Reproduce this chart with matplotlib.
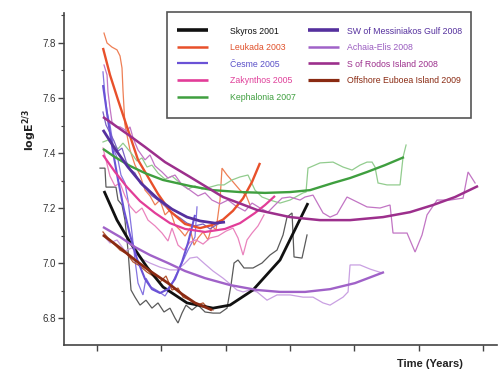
import matplotlib
matplotlib.use("Agg")
import matplotlib.pyplot as plt
from matplotlib.ticker import MultipleLocator
from matplotlib.patches import Rectangle

# ---------------- data (x in years from first tick, y = logE^(2/3)) ----------------
skyros_raw_x = [0.047, 0.124, 0.14, 0.295, 0.327, 0.389, 0.435, 0.482, 0.529, 0.591, 0.669, 0.762, 0.855, 0.949,
                1.042, 1.135, 1.213, 1.26, 1.322, 1.384, 1.477, 1.571, 1.68, 1.804, 1.913, 2.022, 2.084, 2.131,
                2.193, 2.286, 2.426, 2.566, 2.69, 2.799, 2.893, 2.955, 3.033, 3.064, 3.188, 3.266]
skyros_raw_y = [7.345, 7.345, 7.276, 7.276, 7.229, 7.211, 7.156, 7.047, 6.902, 6.876, 6.847, 6.865, 6.836, 6.855,
                6.822, 6.836, 6.8, 6.782, 6.818, 6.847, 6.829, 6.847, 6.822, 6.818, 6.818, 6.836, 6.92, 7.0,
                7.011, 6.982, 6.982, 7.0, 7.029, 7.047, 7.102, 7.167, 7.182, 7.022, 7.018, 7.102]
skyros_fit_x = [0.109, 0.311, 0.513, 0.778, 1.026, 1.40, 1.804, 2.068, 2.426, 2.846, 3.281]
skyros_fit_y = [7.262, 7.156, 7.076, 6.985, 6.913, 6.855, 6.836, 6.847, 6.902, 7.011, 7.218]

leukada_raw_x = [0.109, 0.156, 0.233, 0.311, 0.358, 0.389, 0.404, 0.435, 0.513, 0.591, 0.669, 0.747, 0.824, 0.902,
                 0.98, 1.058, 1.135, 1.213, 1.291, 1.369, 1.446, 1.509, 1.571, 1.649, 1.726, 1.788, 1.851, 1.913,
                 1.944, 2.022, 2.115, 2.224, 2.317, 2.379]
leukada_raw_y = [7.836, 7.8, 7.785, 7.775, 7.753, 7.709, 7.629, 7.502, 7.411, 7.356, 7.32, 7.265, 7.244, 7.211,
                 7.229, 7.175, 7.193, 7.138, 7.12, 7.098, 7.127, 7.065, 7.091, 7.113, 7.084, 7.135, 7.12, 7.229,
                 7.345, 7.32, 7.295, 7.265, 7.247, 7.211]
leukada_fit_x = [0.093, 0.202, 0.327, 0.482, 0.638, 0.793, 0.949, 1.135, 1.369, 1.602, 1.788, 1.96, 2.115, 2.271,
                 2.411, 2.535]
leukada_fit_y = [7.782, 7.684, 7.593, 7.484, 7.375, 7.313, 7.251, 7.189, 7.142, 7.127, 7.138, 7.158, 7.19, 7.235,
                 7.295, 7.364]

cesme_raw_x = [0.093, 0.124, 0.156, 0.202, 0.264, 0.327, 0.373, 0.435, 0.482, 0.544, 0.591, 0.638, 0.715, 0.762,
               0.84, 0.949, 1.058, 1.135, 1.213, 1.322, 1.415, 1.524, 1.555]
cesme_raw_y = [7.695, 7.611, 7.549, 7.502, 7.411, 7.375, 7.32, 7.291, 7.229, 7.109, 7.011, 6.927, 6.884, 6.945,
               6.913, 6.898, 6.88, 6.909, 6.949, 7.0, 7.047, 7.095, 7.204]
cesme_fit_x = [0.093, 0.171, 0.249, 0.327, 0.42, 0.513, 0.622, 0.747, 0.855, 0.98, 1.104, 1.213, 1.322, 1.415, 1.524]
cesme_fit_y = [7.647, 7.52, 7.404, 7.302, 7.193, 7.102, 7.015, 6.942, 6.905, 6.891, 6.905, 6.942, 7.004, 7.073, 7.175]

zak_raw_x = [0.093, 0.14, 0.202, 0.28, 0.358, 0.435, 0.513, 0.607, 0.70, 0.793, 0.902, 1.011, 1.104, 1.166, 1.26,
             1.353, 1.446, 1.54, 1.649, 1.757, 1.882, 2.006, 2.115, 2.193, 2.271, 2.333, 2.411, 2.504, 2.597]
zak_raw_y = [7.418, 7.375, 7.316, 7.28, 7.291, 7.244, 7.207, 7.182, 7.2, 7.156, 7.135, 7.109, 7.08, 7.127, 7.065,
             7.047, 7.076, 7.084, 7.069, 7.091, 7.098, 7.116, 7.127, 7.091, 7.029, 7.084, 7.109, 7.135, 7.175]
zak_fit_x = [0.093, 0.28, 0.467, 0.669, 0.902, 1.135, 1.369, 1.68, 1.991, 2.224, 2.457, 2.613, 2.768]
zak_fit_y = [7.393, 7.331, 7.276, 7.225, 7.182, 7.145, 7.124, 7.113, 7.124, 7.145, 7.182, 7.211, 7.244]

keph_raw_x = [0.093, 0.171, 0.249, 0.327, 0.404, 0.467, 0.544, 0.622, 0.70, 0.778, 0.855, 0.949, 1.058, 1.166,
              1.291, 1.415, 1.524, 1.633, 1.757, 1.882, 1.975, 2.1, 2.224, 2.348, 2.457, 2.566, 2.69, 2.846, 3.002,
              3.204, 3.25, 3.281, 3.468, 3.67, 3.826, 3.966, 4.09, 4.199, 4.277, 4.323, 4.37, 4.51, 4.712, 4.759,
              4.806]
keph_raw_y = [7.44, 7.447, 7.429, 7.415, 7.436, 7.418, 7.396, 7.371, 7.382, 7.349, 7.356, 7.327, 7.305, 7.316,
              7.291, 7.269, 7.28, 7.269, 7.276, 7.284, 7.284, 7.302, 7.313, 7.32, 7.265, 7.24, 7.229, 7.218, 7.229,
              7.255, 7.258, 7.345, 7.364, 7.367, 7.349, 7.338, 7.356, 7.367, 7.367, 7.349, 7.291, 7.284, 7.284,
              7.385, 7.429]
keph_fit_x = [0.093, 0.28, 0.513, 0.747, 1.026, 1.446, 1.804, 2.224, 2.613, 3.002, 3.313, 3.67, 3.935, 4.199,
              4.479, 4.774]
keph_fit_y = [7.415, 7.385, 7.353, 7.327, 7.302, 7.28, 7.265, 7.258, 7.255, 7.258, 7.265, 7.291, 7.309, 7.331,
              7.356, 7.385]

swm_raw_x = [0.093, 0.14, 0.202, 0.264, 0.327, 0.389, 0.451, 0.513, 0.591, 0.669, 0.762, 0.855, 0.949, 1.058,
             1.166, 1.291, 1.40, 1.524, 1.649, 1.757, 1.851, 1.944]
swm_raw_y = [7.549, 7.502, 7.473, 7.444, 7.407, 7.418, 7.371, 7.342, 7.327, 7.291, 7.269, 7.244, 7.229, 7.207,
             7.182, 7.164, 7.145, 7.135, 7.142, 7.124, 7.138, 7.149]
swm_fit_x = [0.093, 0.28, 0.482, 0.70, 0.933, 1.166, 1.40, 1.602, 1.835, 1.991]
swm_fit_y = [7.484, 7.415, 7.349, 7.287, 7.236, 7.196, 7.167, 7.153, 7.145, 7.149]

achaia_raw_x = [0.093, 0.202, 0.311, 0.435, 0.544, 0.669, 0.824, 0.98, 1.135, 1.244, 1.353, 1.446, 1.555, 1.68,
                1.804, 1.96, 2.068, 2.177, 2.271, 2.379, 2.488, 2.644, 2.799, 3.002, 3.204, 3.359, 3.515, 3.624,
                3.826, 3.904, 3.935, 4.09, 4.246, 4.432]
achaia_raw_y = [7.102, 7.073, 7.084, 7.044, 7.055, 7.018, 7.0, 6.985, 6.975, 6.975, 6.996, 7.018, 7.022, 6.996,
                6.971, 6.945, 6.924, 6.902, 6.895, 6.902, 6.895, 6.865, 6.884, 6.884, 6.876, 6.876, 6.855, 6.847,
                6.876, 6.895, 6.993, 6.993, 6.978, 6.964]
achaia_fit_x = [0.093, 0.358, 0.591, 0.824, 1.104, 1.369, 1.68, 2.068, 2.488, 2.846, 3.235, 3.624, 4.012, 4.463]
achaia_fit_y = [7.131, 7.095, 7.058, 7.029, 7.0, 6.971, 6.945, 6.92, 6.902, 6.895, 6.895, 6.905, 6.927, 6.967]

rodos_raw_x = [0.109, 0.156, 0.171, 0.202, 0.233, 0.295, 0.358, 0.467, 0.513, 0.56, 0.638, 0.747, 0.824, 0.902,
               1.011, 1.104, 1.213, 1.322, 1.446, 1.571, 1.68, 1.788, 1.913, 2.037, 2.162, 2.302, 2.411, 2.535,
               2.659, 2.768, 2.877, 3.002, 3.157, 3.235, 3.359, 3.515, 3.624, 3.733, 3.888, 4.044, 4.199, 4.401,
               4.557, 4.603, 4.821, 4.946, 5.054, 5.132, 5.288, 5.49, 5.692, 5.77, 5.879]
rodos_raw_y = [7.72, 7.684, 7.622, 7.564, 7.513, 7.495, 7.495, 7.48, 7.495, 7.455, 7.411, 7.375, 7.393, 7.353,
               7.331, 7.309, 7.32, 7.284, 7.265, 7.244, 7.255, 7.229, 7.215, 7.229, 7.207, 7.189, 7.218, 7.2,
               7.185, 7.211, 7.236, 7.24, 7.229, 7.24, 7.247, 7.182, 7.167, 7.178, 7.24, 7.222, 7.204, 7.2,
               7.211, 7.109, 7.109, 7.04, 7.102, 7.175, 7.229, 7.229, 7.236, 7.331, 7.291]
rodos_fit_x = [0.093, 0.513, 0.747, 1.058, 1.446, 1.96, 2.488, 3.002, 3.468, 3.935, 4.448, 4.868, 5.226, 5.568,
               5.925]
rodos_fit_y = [7.531, 7.462, 7.422, 7.367, 7.313, 7.24, 7.193, 7.167, 7.156, 7.156, 7.167, 7.185, 7.211, 7.24,
               7.28]

euboea_raw_x = [0.093, 0.171, 0.249, 0.358, 0.467, 0.56, 0.669, 0.778, 0.871, 0.98, 1.073, 1.166, 1.26, 1.338,
                1.446, 1.555, 1.649, 1.726, 1.804]
euboea_raw_y = [7.113, 7.091, 7.073, 7.047, 7.033, 7.004, 6.989, 6.967, 6.953, 6.931, 6.953, 6.902, 6.909, 6.876,
                6.865, 6.847, 6.855, 6.836, 6.829]
euboea_fit_x = [0.093, 0.358, 0.591, 0.824, 1.104, 1.322, 1.524, 1.68, 1.788]
euboea_fit_y = [7.102, 7.055, 7.011, 6.971, 6.927, 6.887, 6.855, 6.84, 6.829]

labels = ["Skyros 2001", "Leukada 2003", "Česme 2005", "Zakynthos 2005", "Kephalonia 2007",
          "SW of Messiniakos Gulf 2008", "Achaia-Elis 2008", "S of Rodos Island 2008", "Offshore Euboea Island 2009"]
fit_colors = ["#111111", "#e8502a", "#6a52d6", "#e23d98", "#3f9f3f", "#55309e", "#a062c8", "#9c2f8c", "#8a2a12"]
raw_colors = ["#5a5a5a", "#ee7f55", "#8473e0", "#ea83bd", "#92cc8e", "#7a62c2", "#c9a0e2", "#c275c4", "#b4552f"]
text_colors = ["#111111", "#e0502a", "#5a50c8", "#e0409a", "#3f9f3f", "#55309e", "#9a5cc0", "#9c2f8c", "#8a2a12"]
legend_widths = [2.6, 1.8, 1.6, 1.9, 1.8, 2.6, 1.8, 1.9, 2.3]

raws = [(skyros_raw_x, skyros_raw_y), (leukada_raw_x, leukada_raw_y), (cesme_raw_x, cesme_raw_y),
        (zak_raw_x, zak_raw_y), (keph_raw_x, keph_raw_y), (swm_raw_x, swm_raw_y),
        (achaia_raw_x, achaia_raw_y), (rodos_raw_x, rodos_raw_y), (euboea_raw_x, euboea_raw_y)]
fits = [(skyros_fit_x, skyros_fit_y), (leukada_fit_x, leukada_fit_y), (cesme_fit_x, cesme_fit_y),
        (zak_fit_x, zak_fit_y), (keph_fit_x, keph_fit_y), (swm_fit_x, swm_fit_y),
        (achaia_fit_x, achaia_fit_y), (rodos_fit_x, rodos_fit_y), (euboea_fit_x, euboea_fit_y)]
fit_widths = [2.0, 1.7, 1.5, 1.6, 1.7, 2.0, 1.7, 1.8, 2.0]

plt.rcParams['font.family'] = ['Liberation Sans', 'DejaVu Sans']

W, H = 499, 373
fig = plt.figure(figsize=(W / 100, H / 100), dpi=100)
ax = fig.add_axes([64 / W, 1 - 345 / H, 1 - 64 / W - 0.004, (345 - 13) / H])

for (rx, ry), c in zip(raws, raw_colors):
    ax.plot(rx, ry, color=c, lw=0.9, solid_joinstyle='miter')
handles = []
for (fx, fy), c, w, lab in zip(fits, fit_colors, fit_widths, labels):
    h, = ax.plot(fx, fy, color=c, lw=w, solid_capstyle='butt')
    handles.append(h)

ax.set_xlim(-0.513, 6.22)
ax.set_ylim(6.702, 7.909)
ax.set_xticks(range(0, 7))
ax.set_xticklabels([])
ax.yaxis.set_minor_locator(MultipleLocator(0.1))
ax.tick_params(axis='y', which='major', direction='out', length=4, width=1, colors='#444444',
               labelsize=7, labelcolor='#333333', pad=2)
ax.tick_params(axis='y', which='minor', direction='out', length=2, width=0.8, colors='#444444')
ax.tick_params(axis='x', which='major', direction='out', length=4, width=1, colors='#444444')
ax.set_yticks([6.8, 7.0, 7.2, 7.4, 7.6, 7.8])
ax.set_yticklabels(["6.8", "7.0", "7.2", "7.4", "7.6", "7.8"])
for s in ['top', 'right']:
    ax.spines[s].set_visible(False)
for s in ['left', 'bottom']:
    ax.spines[s].set_color('#444444')
    ax.spines[s].set_linewidth(1.2)

fig.text(30 / W, 1 - 130 / H, r'$\mathbf{logE}^{\mathbf{2/3}}$', rotation=90, ha='center', va='center',
         fontsize=8, color='#222222')
fig.text(430 / W, 1 - 364 / H, 'Time (Years)', ha='center', va='center', fontsize=8, fontweight='bold',
         color='#222222')

# legend frame
frame = Rectangle((167 / W, 1 - 118 / H), 304 / W, 106 / H, transform=fig.transFigure,
                  facecolor='white', edgecolor='#555555', lw=1.2, zorder=5)
fig.patches.append(frame)

fs = 6.3
common = dict(fontsize=fs, frameon=False, handlelength=3.55, labelspacing=0.86, borderpad=0,
              borderaxespad=0, loc='upper left')
leg1 = fig.legend(handles[:5], labels[:5], bbox_to_anchor=(177 / W, 1 - 26.5 / H), handletextpad=2.5, **common)
leg2 = fig.legend(handles[5:], labels[5:], bbox_to_anchor=(308 / W, 1 - 26.5 / H), handletextpad=0.9, **common)
for leg, cols, wids in [(leg1, text_colors[:5], legend_widths[:5]), (leg2, text_colors[5:], legend_widths[5:])]:
    leg.set_zorder(6)
    for t, c in zip(leg.get_texts(), cols):
        t.set_color(c)
    for ln, w in zip(leg.get_lines(), wids):
        ln.set_linewidth(w)

fig.savefig('out.png', dpi=100)
